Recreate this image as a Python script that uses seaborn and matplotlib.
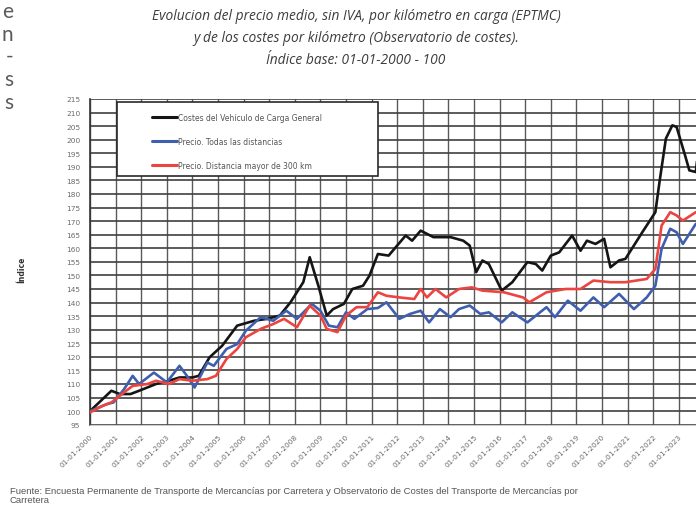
import matplotlib
matplotlib.use('Agg')
import matplotlib.pyplot as plt
import matplotlib.dates as mdates
from matplotlib.patches import Rectangle
from matplotlib.lines import Line2D
import seaborn as sns
import pandas as pd

# ---------------- data ----------------
costes_fechas = ["2000-01", "2000-11", "2001-03", "2001-08", "2001-12", "2002-08", "2003-02", "2003-07",
                 "2004-01", "2004-04", "2004-09", "2005-03", "2005-10", "2006-06", "2006-12", "2007-06",
                 "2007-11", "2008-05", "2008-08", "2008-12", "2009-04", "2009-07", "2009-12", "2010-04",
                 "2010-09", "2010-12", "2011-04", "2011-09", "2012-05", "2012-08", "2012-12", "2013-06",
                 "2014-02", "2014-08", "2014-11", "2015-02", "2015-05", "2015-08", "2016-02", "2016-07",
                 "2017-02", "2017-06", "2017-09", "2018-01", "2018-05", "2018-11", "2019-03", "2019-06",
                 "2019-10", "2020-02", "2020-05", "2020-09", "2020-12", "2021-08", "2022-02", "2022-04",
                 "2022-07", "2022-10", "2022-12", "2023-04", "2023-06", "2023-09", "2023-10"]
costes_valores = [100, 107.5, 106.3, 106.3, 107.5, 110, 111.2, 112.4,
                  112.4, 113, 119.8, 124.1, 131.5, 133.3, 134, 135.2,
                  140.1, 147.5, 156.7, 146.3, 135.2, 137.6, 139.5, 145,
                  146.2, 149.9, 157.9, 157.3, 164.7, 162.8, 166.5, 164.1,
                  164.1, 162.8, 161, 151.2, 155.5, 154.2, 144.4, 147.5,
                  154.9, 154.2, 151.8, 157.3, 158.5, 164.7, 159.1, 162.8,
                  161.6, 163.5, 153, 155.5, 156.1, 166, 173.3, 184.4,
                  200.4, 205.3, 204.7, 194.2, 188.7, 188.1, 195]

todas_fechas = ["2000-01", "2000-09", "2000-12", "2001-05", "2001-09", "2001-12", "2002-07", "2003-01",
                "2003-07", "2003-11", "2004-02", "2004-08", "2004-11", "2005-05", "2005-10", "2006-02",
                "2006-09", "2007-03", "2007-09", "2008-02", "2008-09", "2009-01", "2009-05", "2009-09",
                "2010-01", "2010-05", "2010-11", "2011-04", "2011-08", "2012-02", "2012-07", "2012-12",
                "2013-04", "2013-09", "2014-02", "2014-06", "2014-11", "2015-04", "2015-08", "2016-02",
                "2016-07", "2017-02", "2017-11", "2018-03", "2018-09", "2019-03", "2019-09", "2020-02",
                "2020-09", "2021-04", "2021-10", "2022-02", "2022-05", "2022-09", "2022-12", "2023-03",
                "2023-09"]
todas_valores = [100, 102.6, 103.2, 108.1, 113, 110, 114.2, 110.6,
                 116.7, 112.4, 108.7, 117.9, 116.7, 122.9, 124.7, 129.6,
                 134.6, 133.3, 137, 134, 139.5, 137, 131.5, 130.9,
                 136.4, 134, 137.6, 138, 140.1, 134, 135.8, 137,
                 132.7, 137.6, 134.6, 137.6, 138.9, 135.8, 136.4, 132.7,
                 136.4, 132.7, 138.3, 134.6, 140.7, 137, 141.9, 138.3,
                 143.2, 137.6, 141.9, 146.2, 159.8, 167.2, 165.9, 161.6,
                 169]

mayor300_fechas = ["2000-01", "2000-07", "2000-11", "2001-05", "2001-09", "2002-04", "2002-08", "2003-02",
                   "2003-07", "2004-01", "2004-08", "2004-12", "2005-05", "2005-10", "2006-02", "2006-09",
                   "2007-03", "2007-08", "2008-02", "2008-08", "2009-01", "2009-04", "2009-09", "2010-01",
                   "2010-06", "2010-11", "2011-04", "2011-08", "2012-02", "2012-09", "2012-12", "2013-03",
                   "2013-07", "2013-12", "2014-06", "2014-12", "2015-05", "2016-03", "2016-12", "2017-03",
                   "2017-11", "2018-08", "2019-03", "2019-09", "2020-05", "2020-12", "2021-10", "2022-02",
                   "2022-05", "2022-09", "2022-12", "2023-03", "2023-09"]
mayor300_valores = [99.5, 102, 103.2, 106.9, 109.3, 110, 111.2, 110,
                    111.8, 111.2, 111.8, 113, 119.2, 122.9, 127.2, 130.3,
                    132.1, 134, 130.9, 138.9, 135.2, 130.3, 129.1, 135.2,
                    138.3, 138.3, 143.8, 142.5, 141.9, 141.3, 145, 141.9,
                    145, 141.9, 145, 145.6, 144.4, 143.8, 141.9, 140.1,
                    143.8, 145, 145, 148.1, 147.5, 147.5, 148.7, 152.4,
                    168.4, 173.3, 172.1, 170.2, 173.3]

series = ["Costes del Vehículo de Carga General",
          "Precio. Todas las distancias",
          "Precio. Distancia mayor de 300 km"]
colores = ["#151515", "#3f5fae", "#ec4440"]

titulo = ["Evolucion del precio medio, sin IVA, por kilómetro en carga (EPTMC)",
          "y de los costes por kilómetro (Observatorio de costes).",
          "Índice base: 01-01-2000 - 100"]
fuente = ["Fuente: Encuesta Permanente de Transporte de Mercancías por Carretera y Observatorio de Costes del Transporte de Mercancías por",
          "Carretera"]
margen = ["e", "n", "-", "s", "s"]

# ---------------- build long table ----------------
frames = []
for nombre, f, v in zip(series, [costes_fechas, todas_fechas, mayor300_fechas],
                        [costes_valores, todas_valores, mayor300_valores]):
    frames.append(pd.DataFrame({"fecha": pd.to_datetime(f, format="%Y-%m"),
                                "valor": v, "serie": nombre}))
df = pd.concat(frames, ignore_index=True)

sns.set_style("white")
plt.rcParams['font.family'] = ['DejaVu Sans']

W, H = 696, 510
fig = plt.figure(figsize=(W / 100, H / 100), dpi=100)
fig.patch.set_facecolor("white")


def fx(px):
    return px / W


def fy(py):
    return 1 - py / H


x0, ytop, ybot = 90, 100, 425.7
ax = fig.add_axes([fx(x0), fy(ybot), 25 * 25.6 / W, (ybot - ytop) / H])

sns.lineplot(data=df, x="fecha", y="valor", hue="serie", hue_order=series,
             palette=dict(zip(series, colores)), linewidth=1.9, estimator=None,
             legend=False, ax=ax, zorder=4)

ax.set_xlim(pd.Timestamp("2000-01-01"), pd.Timestamp("2025-01-01"))
ax.set_ylim(95, 215)
ax.set_yticks(range(95, 216, 5))
ax.set_xticks(pd.date_range("2000-01-01", "2023-01-01", freq="YS"))
ax.xaxis.set_major_formatter(mdates.DateFormatter("%d-%m-%Y"))

ax.set_axisbelow(True)
ax.grid(True, axis="y", color="#404040", linewidth=1.2)
ax.grid(True, axis="x", color="#5a5a5a", linewidth=1.0)
for s in ["top", "right"]:
    ax.spines[s].set_visible(False)
ax.spines["left"].set_color("#333333")
ax.spines["left"].set_linewidth(1.2)
ax.spines["bottom"].set_color("#cccccc")
ax.spines["bottom"].set_linewidth(0.8)

ax.tick_params(axis="y", length=5, width=1, color="#333333", labelsize=5.3,
               labelcolor="#6a6a6a", pad=2)
ax.tick_params(axis="x", length=4, width=1, color="#555555", labelsize=5.3,
               labelcolor="#6a6a6a", pad=2)
for lbl in ax.get_xticklabels():
    lbl.set_rotation(45)
    lbl.set_ha("right")
    lbl.set_rotation_mode("anchor")
ax.set_xlabel("")
ax.set_ylabel("")

# legend box + legend
ax.add_patch(Rectangle((fx(116.7), fy(176.7)), (378.3 - 116.7) / W, (176.7 - 103.3) / H,
                       transform=fig.transFigure, facecolor="white", edgecolor="#2a2a2a",
                       linewidth=1.2, zorder=3, clip_on=False))
handles = [Line2D([], [], color=c, linewidth=2.2) for c in colores]
leg = ax.legend(handles, series, loc="center left",
                bbox_to_anchor=(fx(151.7), fy(142.3)), bbox_transform=fig.transFigure,
                frameon=False, borderpad=0, borderaxespad=0, handlelength=3.3,
                handletextpad=0.1, labelspacing=1.95, fontsize=5.5)
for t in leg.get_texts():
    t.set_color("#555555")
leg.set_zorder(5)

# titles
for txt, yy in zip(titulo, [17, 39, 60]):
    fig.text(fx(356), fy(yy), txt, ha="center", va="center", fontsize=9.9,
             style="italic", color="#3c3c3c", family="Open Sans")

fig.text(fx(22), fy(270), "Índice", rotation=90, ha="center", va="center",
         fontsize=5.5, fontweight="bold", color="#333333")

fig.text(fx(10), fy(492), fuente[0], ha="left", va="center", fontsize=6.8,
         color="#555555", family="Liberation Sans")
fig.text(fx(10), fy(501), fuente[1], ha="left", va="center", fontsize=6.8,
         color="#555555", family="Liberation Sans")

for txt, yy in zip(margen, [12, 35, 57, 80, 103]):
    fig.text(fx(13), fy(yy), txt, ha="right", va="center",
             fontsize=15, color="#5a5a5a", family="Lato", fontweight="normal")

fig.savefig("out.png", dpi=100)
